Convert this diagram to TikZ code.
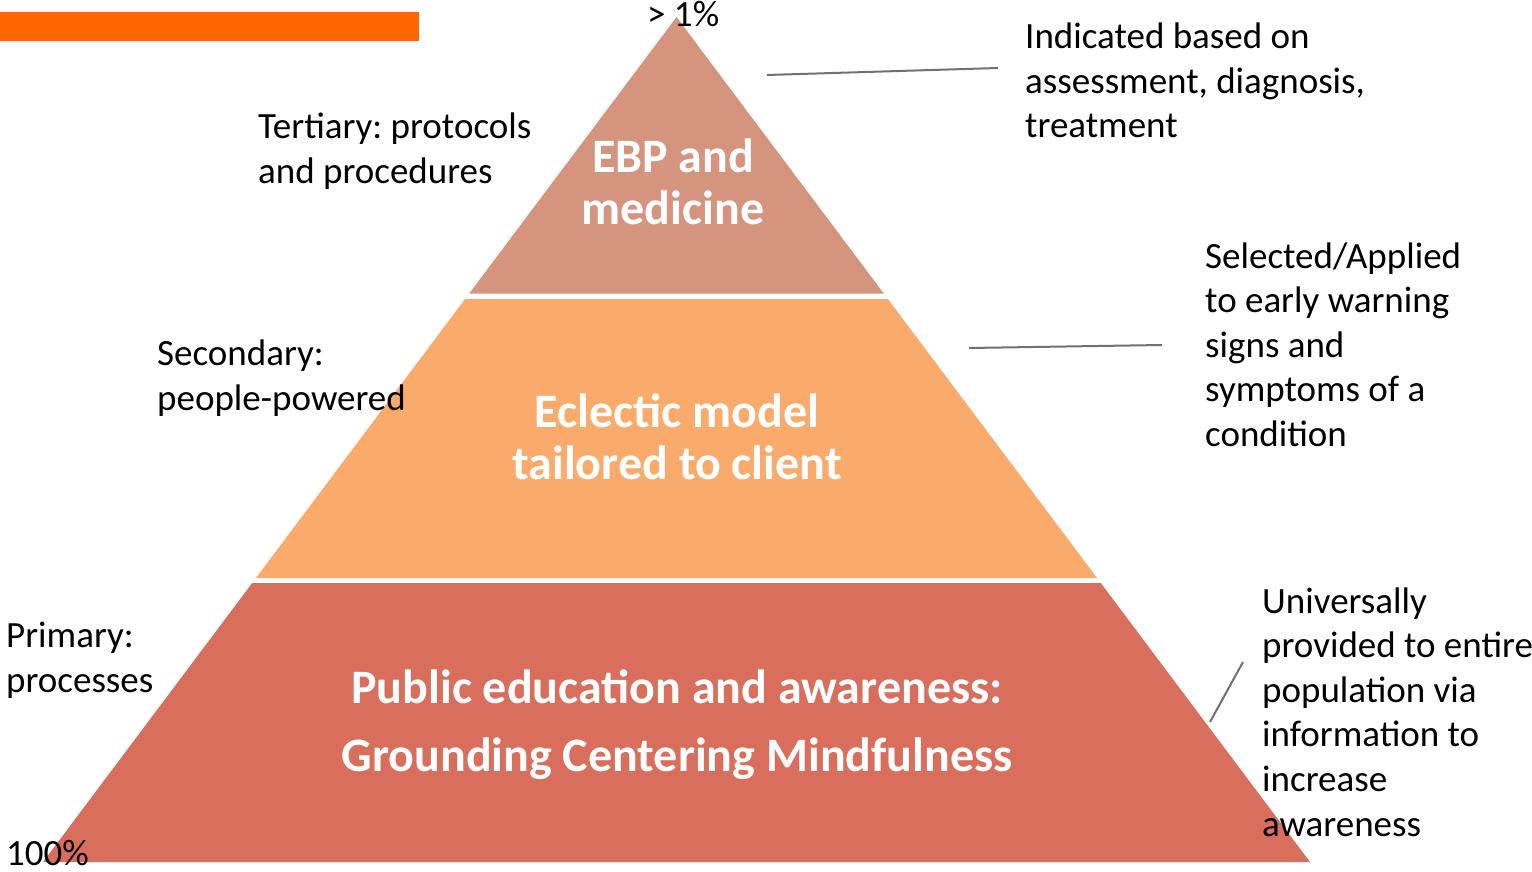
\documentclass[tikz,border=0pt]{standalone}
\usepackage{fontspec}
\setmainfont{Carlito}
\frenchspacing
\definecolor{barorange}{RGB}{255,102,0}
\definecolor{tiertop}{RGB}{213,148,126}
\definecolor{tiermid}{RGB}{250,171,108}
\definecolor{tierbase}{RGB}{216,110,91}
\definecolor{leader}{RGB}{112,112,112}
\tikzset{
  % multi-line nodes: the base anchor sits on the last line's baseline
  note/.style={anchor=base west, align=left, inner sep=0pt, text=black,
    font=\fontsize{37}{44.6}\selectfont},
  tierlabel/.style={anchor=base, align=center, inner sep=0pt, text=white,
    font=\fontsize{48}{52}\selectfont\bfseries},
  baselabel/.style={anchor=base, align=center, inner sep=0pt, text=white,
    font=\fontsize{48}{68}\selectfont\bfseries},
  leaderline/.style={draw=leader, line width=2pt},
}
\begin{document}
\begin{tikzpicture}[x=1pt, y=-1pt]
  \useasboundingbox (0,0) rectangle (1532,872);

  % header bar
  \fill[barorange] (0,12) rectangle (419,41);

  % pyramid tiers
  \fill[tiertop]  (676.5,17) -- (883.8,293.5) -- (469.2,293.5) -- cycle;
  \fill[tiermid]  (465.1,299) -- (887.9,299) -- (1097.1,578) -- (255.9,578) -- cycle;
  \fill[tierbase] (252.2,583) -- (1100.8,583) -- (1310,862) -- (43,862) -- cycle;

  % tier captions
  \node[tierlabel] (ebp) at (673,224) {EBP and\\medicine};
  \node[tierlabel] (eclectic) at (677,479) {Eclectic model\\tailored to client};
  \node[baselabel] (public) at (677,771) {Public education and awareness:\\Grounding Centering Mindfulness};

  % side notes
  \node[note] (top) at (647,27) {> 1\%};
  \node[note] (bottom) at (6,865) {100\%};
  \node[note] (tertiary) at (258,183.5) {Tertiary: protocols\\and procedures};
  \node[note] (secondary) at (157,410.5) {Secondary:\\people-powered};
  \node[note] (primary) at (6,692.5) {Primary:\\processes};
  \node[note] (indicated) at (1025,138) {Indicated based on\\assessment, diagnosis,\\treatment};
  \node[note] (selected) at (1205,446.5) {Selected/Applied\\to early warning\\signs and\\symptoms of a\\condition};
  \node[note] (universal) at (1262,836) {Universally\\provided to entire\\population via\\information to\\increase\\awareness};

  % leader lines
  \coordinate (l1a) at (767,75);  \coordinate (l1b) at (998,68);
  \coordinate (l2a) at (969,348); \coordinate (l2b) at (1162,345);
  \coordinate (l3a) at (1210,722); \coordinate (l3b) at (1243,662);
  \draw[leaderline] (l1a) -- (l1b);
  \draw[leaderline] (l2a) -- (l2b);
  \draw[leaderline] (l3a) -- (l3b);
\end{tikzpicture}
\end{document}
